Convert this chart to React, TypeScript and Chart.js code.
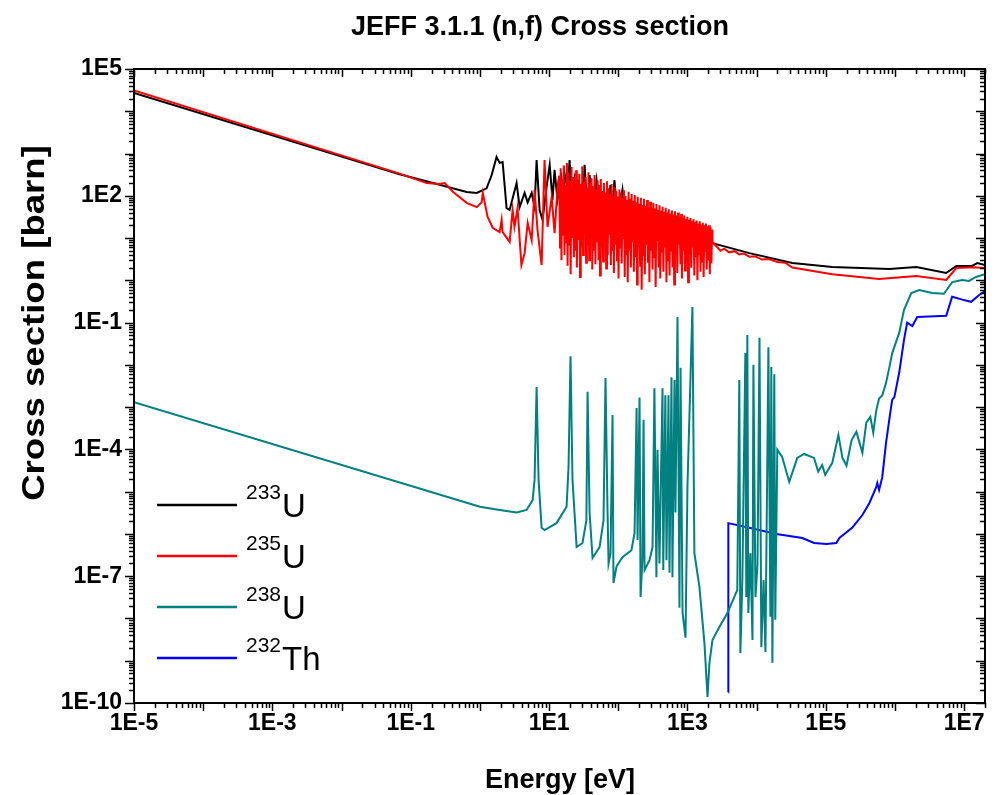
import React, { useEffect, useRef } from "react";
import { Chart, registerables } from "chart.js";

Chart.register(...registerables);

// ---------- axis ranges and labels ----------
const xMin = 1e-5;
const xMax = 2e7;
const yMin = 1e-10;
const yMax = 1e5;
const xTickValues = [1e-5, 1e-3, 1e-1, 1e1, 1e3, 1e5, 1e7];
const yTickValues = [1e-10, 1e-7, 1e-4, 1e-1, 1e2, 1e5];
const chartTitle = "JEFF 3.1.1 (n,f) Cross section";
const xAxisTitle = "Energy [eV]";
const yAxisTitle = "Cross section [barn]";

// ---------- series (energy [eV], cross section [barn]) ----------
const u233Points: [number, number][] = [
  [1e-5, 2.7e4], [0.069, 325], [0.21, 200], [0.645, 123], [0.9, 117], [1.25, 150],
  [1.48, 310], [1.74, 830], [1.93, 600], [2.13, 630], [2.43, 51], [2.69, 46],
  [3.39, 200], [3.75, 54], [4.43, 117], [4.9, 70], [5.6, 117], [6.17, 54],
  [6.6, 700], [7.3, 46], [8.05, 27], [9.2, 163], [10.2, 540], [11.2, 80],
  [12, 410], [13.2, 80], [15.1, 265], [15.9, 70], [16.7, 345], [18.5, 138],
  [19.8, 700], [21.1, 60], [23.3, 235], [25.8, 46], [27.5, 180], [30.5, 42],
  [32.6, 540], [36, 35], [38.5, 310], [42.5, 46], [48.5, 235], [53.7, 35],
  [63, 105], [70, 30], [77, 180], [82, 40], [88, 235], [98, 27], [115, 138],
  [127, 25], [203, 60], [398, 35], [767, 27], [1480, 17], [2300, 7.6],
  [7850, 4.4], [32800, 2.57], [124000, 2.07], [826000, 1.86], [2.03e6, 2.07],
  [5.5e6, 1.49], [7.7e6, 2.19], [1.3e7, 2.19], [1.55e7, 2.57], [2e7, 2.29],
];

const u235LowPoints: [number, number][] = [
  [1e-5, 3.1e4], [0.069, 335], [0.17, 200], [0.26, 190], [0.31, 200], [0.41, 123],
  [0.645, 68], [0.9, 54], [1.06, 70], [1.1, 117], [1.29, 32], [1.53, 17.5],
  [1.93, 13.8], [2.06, 27], [2.13, 13.8], [2.69, 8.1], [2.97, 46], [3.16, 18.3],
  [3.5, 51], [3.98, 2.3], [4.43, 4.4], [4.9, 23], [5.6, 9], [6.17, 138],
  [6.8, 15.5], [7.8, 2.3], [8.6, 700], [9.5, 18.3], [10.9, 93], [12, 13], [13.3, 180],
];

const u235ResonanceE = [
  14, 14.4, 14.7, 15.1, 15.5, 15.9, 16.3, 16.7, 17.2, 17.6,
  18.1, 18.5, 19.0, 19.5, 20.0, 20.5, 21.1, 21.6, 22.2, 22.8,
  23.4, 24.0, 24.6, 25.2, 25.9, 26.6, 27.3, 28.0, 28.7, 29.4,
  30.2, 31.0, 31.8, 32.6, 33.5, 34.3, 35.2, 36.1, 37.1, 38.0,
  39.0, 40.0, 41.1, 42.1, 43.2, 44.4, 45.5, 46.7, 47.9, 49.2,
  50.4, 51.8, 53.1, 54.5, 55.9, 57.4, 58.8, 60.4, 62.0, 63.6,
  65.2, 66.9, 68.7, 70.4, 72.3, 74.2, 76.1, 78.1, 80.1, 82.2,
  84.3, 86.5, 88.8, 91.1, 93.5, 95.9, 98.4, 101, 104, 106,
  109, 112, 115, 118, 121, 124, 127, 130, 134, 137,
  141, 144, 148, 152, 156, 160, 164, 168, 173, 177,
  182, 187, 191, 196, 202, 207, 212, 218, 224, 229,
  235, 242, 248, 254, 261, 268, 275, 282, 289, 297,
  305, 313, 321, 329, 338, 347, 356, 365, 375, 384,
  394, 405, 415, 426, 437, 449, 460, 472, 485, 497,
  510, 524, 537, 551, 566, 580, 596, 611, 627, 644,
  660, 678, 695, 713, 732, 751, 771, 791, 811, 833,
  854, 877, 899, 923, 947, 972, 997, 1023, 1050, 1077,
  1105, 1134, 1164, 1194, 1225, 1257, 1290, 1324, 1358, 1394,
  1430, 1468, 1506, 1545, 1586, 1627, 1670, 1713, 1758, 1804,
  1851, 1899, 1949, 2000, 2052, 2105, 2160, 2217, 2275,
];
const u235ResonanceS = [
  300, 6, 450, 3, 250, 12, 520, 4, 180, 8,
  600, 2.2, 350, 7, 220, 1.4, 480, 10, 280, 3.5,
  160, 5, 400, 2, 240, 9, 330, 1.2, 190, 6,
  500, 4, 210, 14, 280, 2.6, 150, 7, 360, 3,
  200, 11, 260, 1.8, 170, 5, 310, 2.4, 140, 8,
  230, 3, 180, 1.3, 250, 6, 130, 2.8, 200, 9,
  120, 1.9, 220, 4, 150, 12, 110, 2.3, 190, 5,
  100, 1.5, 160, 7, 130, 3, 95, 1.1, 140, 6,
  120, 2.5, 90, 10, 135, 1.2, 100, 4, 80, 0.9,
  125, 5, 85, 2, 110, 8, 75, 1.6, 105, 3.5,
  70, 0.8, 95, 6, 65, 2.2, 90, 0.6, 60, 4,
  85, 1.4, 58, 7, 80, 2.6, 55, 0.9, 72, 5,
  52, 1.8, 68, 3.5, 50, 0.7, 64, 9, 46, 2,
  60, 1.1, 45, 4.5, 55, 1.6, 42, 6, 52, 0.9,
  40, 3, 48, 1.3, 38, 5, 45, 2, 36, 0.8,
  43, 4, 34, 1.5, 40, 7, 32, 2.4, 37, 1.1,
  30, 5, 34, 1.7, 28, 3, 32, 0.9, 27, 4,
  30, 2, 25, 6, 28, 1.3, 24, 3.5, 26, 1.0,
  22, 4, 25, 1.6, 21, 2.8, 23, 1.2, 20, 5,
  22, 1.8, 19, 3, 20, 1.4, 18, 2.5, 16,
];

const u235HighPoints: [number, number][] = [
  [2300, 8], [2600, 6.5], [3000, 5.0], [3400, 5.6], [4000, 4.6], [4800, 4.9], [5600, 4.1],
  [6600, 4.3], [7850, 3.6], [9500, 3.7], [12000, 3.1], [15000, 3.2], [20000, 2.7],
  [26000, 2.6], [32800, 2.0], [124000, 1.4], [589000, 1.07], [2.03e6, 1.26],
  [5.5e6, 1.02], [7.7e6, 1.96], [1.3e7, 2.05], [2e7, 1.96],
];

const u238Points: [number, number][] = [
  [1e-5, 1.3e-3], [1.0, 4.4e-6], [1.93, 3.7e-6], [3.39, 3.2e-6], [4.73, 3.7e-6],
  [5.78, 6.3e-6], [6.17, 1.9e-5], [6.6, 3.0e-3], [7.05, 1.9e-5], [7.8, 1.4e-6],
  [8.6, 1.23e-6], [12.8, 1.8e-6], [17.9, 4.4e-6], [19.1, 3.8e-5], [20.4, 1.6e-2],
  [21.8, 1.9e-5], [25, 4.9e-7], [30.4, 6.1e-7], [34.6, 2.1e-6], [36, 2.3e-3],
  [38.5, 3.2e-6], [42.5, 2.7e-7], [53.7, 4.9e-7], [61.2, 2.1e-6], [65.4, 4.9e-3],
  [70, 3.2e-6], [72.4, 2.0e-7], [77.3, 3.5e-7], [82.6, 6.5e-4], [85.3, 6.9e-8],
  [94.4, 1.7e-7], [115, 2.8e-7], [155, 4.1e-7], [172, 1.05e-6], [184, 9.5e-4],
  [190, 7.2e-7], [203, 1.7e-3], [210, 3.2e-8], [224, 2.8e-7], [232, 5.0e-4],
  [240, 1.4e-7], [283, 2.4e-7], [313, 4.9e-7], [333, 2.8e-3], [356, 9.5e-8],
  [369, 9.8e-5], [394, 2.0e-7], [436, 2.8e-3], [447, 1.4e-7], [479, 1.9e-3],
  [498, 2.4e-7], [532, 1.9e-3], [550, 1.2e-7], [588, 5.1e-3], [607, 9.5e-8],
  [650, 4.4e-3], [671, 3.2e-6], [718, 0.135], [767, 1.8e-8], [794, 8.5e-3],
  [850, 1.35e-8], [938, 3.5e-9], [1000, 1.3e-5], [1104, 4.4e-3], [1180, 0.235],
  [1260, 3.5e-7], [1490, 5.6e-8], [1760, 2.6e-9], [1950, 1.4e-10], [2080, 8.9e-10],
  [2300, 3.1e-9], [2890, 6.3e-9], [3780, 1.35e-8], [5250, 4.7e-8], [5620, 4.4e-3],
  [5820, 1.5e-9], [6220, 8.1e-8], [6870, 1.9e-2], [7090, 3.2e-8], [7340, 5.1e-2],
  [7590, 1.35e-8], [8130, 3.5e-7], [8710, 3.1e-9], [8980, 1.0e-2], [9620, 3.2e-8],
  [10300, 2.0e-7], [11000, 4.4e-2], [11700, 2.1e-9], [12600, 8.1e-8], [13400, 1.6e-9],
  [14800, 2.6e-2], [15800, 1.1e-8], [16300, 8.9e-3], [16900, 8.9e-10], [18000, 6.0e-3],
  [18600, 9.3e-9], [19900, 9.8e-5], [23400, 6.6e-5], [29600, 1.7e-5], [38700, 6.3e-5],
  [48600, 7.8e-5], [67600, 6.3e-5], [77600, 3.0e-5], [88500, 4.3e-5], [98000, 2.5e-5],
  [124000, 4.8e-5], [152000, 2.2e-4], [174000, 6.3e-5], [199000, 4.1e-5],
  [236000, 1.66e-4], [277000, 2.6e-4], [338000, 8.3e-5], [385000, 4.3e-4],
  [440000, 5.9e-4], [485000, 2.5e-4], [537000, 8.5e-4], [589000, 1.6e-3],
  [655000, 1.9e-3], [741000, 3.7e-3], [826000, 8.5e-3], [912000, 1.9e-2],
  [1.15e6, 5.7e-2], [1.35e6, 0.2], [1.72e6, 0.5], [2.24e6, 0.59], [3.45e6, 0.5],
  [5.1e6, 0.48], [6.7e6, 0.91], [9.4e6, 1.02], [1.17e7, 0.97], [1.48e7, 1.2], [2e7, 1.4],
];

const th232Points: [number, number][] = [
  [3890, 1.8e-10], [3900, 1.8e-6], [7850, 1.4e-6], [19300, 1.0e-6], [45800, 8.0e-7],
  [67600, 6.1e-7], [102000, 5.8e-7], [142000, 6.1e-7], [157000, 8.0e-7],
  [240000, 1.4e-6], [338000, 2.8e-6], [427000, 5.4e-6], [537000, 1.3e-5],
  [555000, 1.6e-5], [589000, 1.1e-5], [655000, 2.2e-5], [741000, 1.4e-4],
  [826000, 5.0e-4], [912000, 1.5e-3], [978000, 1.7e-3], [1.15e6, 6.5e-3],
  [1.35e6, 3.9e-2], [1.5e6, 0.10], [1.78e6, 0.083], [2.1e6, 0.135], [3.12e6, 0.14],
  [5.5e6, 0.145], [6.7e6, 0.41], [9.4e6, 0.35], [1.26e7, 0.31], [1.65e7, 0.45], [2e7, 0.56],
];

const seriesMass = ["233", "235", "238", "232"];
const seriesElement = ["U", "U", "U", "Th"];
const seriesColors = ["#000000", "#ff0000", "#008080", "#0000ff"];

const FONT = "'Liberation Sans', Arial, Helvetica, sans-serif";

function toXY(pts: [number, number][]) {
  return pts.map(([x, y]) => ({ x, y }));
}

const u235All = [
  ...toXY(u235LowPoints),
  ...u235ResonanceE.map((x, i) => ({ x, y: u235ResonanceS[i] })),
  ...toXY(u235HighPoints),
];

const decorPlugin = {
  id: "decor",
  afterDatasetsDraw(chart: any) {
    const { ctx, chartArea: a, scales } = chart;
    const xs = scales.x;
    const ys = scales.y;
    ctx.save();
    ctx.strokeStyle = "#000";
    ctx.lineWidth = 2;
    ctx.strokeRect(a.left, a.top, a.right - a.left, a.bottom - a.top);
    ctx.lineWidth = 1.5;
    const seg = (x1: number, y1: number, x2: number, y2: number) => {
      ctx.beginPath();
      ctx.moveTo(x1, y1);
      ctx.lineTo(x2, y2);
      ctx.stroke();
    };
    for (let e = -5; e <= 7; e++) {
      for (let m = 1; m <= 9; m++) {
        const v = m * Math.pow(10, e);
        if (v < xMin * 0.999 || v > xMax * 1.001) continue;
        const px = Math.round(xs.getPixelForValue(v)) + 0.5;
        const len = m === 1 ? 8 : 5;
        seg(px, a.bottom, px, a.bottom + len);
        seg(px, a.top, px, a.top + len);
      }
    }
    for (let e = -10; e <= 5; e++) {
      for (let m = 1; m <= 9; m++) {
        const v = m * Math.pow(10, e);
        if (v < yMin * 0.999 || v > yMax * 1.001) continue;
        const py = Math.round(ys.getPixelForValue(v)) + 0.5;
        const len = m === 1 ? 9 : 5;
        seg(a.left - len, py, a.left, py);
        seg(a.right - len, py, a.right, py);
      }
    }
    ctx.restore();
  },
  afterDraw(chart: any) {
    const { ctx } = chart;
    ctx.save();
    ctx.fillStyle = "#000";
    ctx.textAlign = "center";
    ctx.textBaseline = "alphabetic";
    // title
    ctx.font = `bold 27px ${FONT}`;
    ctx.fillText(chartTitle, 540, 35);
    // x axis title
    ctx.font = `bold 27px ${FONT}`;
    ctx.fillText(xAxisTitle, 560, 788);
    // y axis title
    ctx.save();
    ctx.translate(44, 323);
    ctx.rotate(-Math.PI / 2);
    ctx.scale(1.18, 1);
    ctx.font = `bold 31px ${FONT}`;
    ctx.fillText(yAxisTitle, 0, 0);
    ctx.restore();
    // legend
    const rows = [505, 556, 607, 658];
    rows.forEach((ry, i) => {
      ctx.strokeStyle = seriesColors[i];
      ctx.lineWidth = 2.5;
      ctx.beginPath();
      ctx.moveTo(157, ry);
      ctx.lineTo(237, ry);
      ctx.stroke();
      ctx.textAlign = "left";
      ctx.font = `21px ${FONT}`;
      ctx.fillText(seriesMass[i], 246, ry - 6);
      const w = ctx.measureText(seriesMass[i]).width;
      ctx.font = `33px ${FONT}`;
      ctx.fillText(seriesElement[i], 246 + w + 1, ry + 12);
    });
    ctx.restore();
  },
};

export default function App() {
  const ref = useRef<HTMLCanvasElement | null>(null);
  useEffect(() => {
    if (!ref.current) return;
    const common = { pointRadius: 0, borderWidth: 2, tension: 0, fill: false };
    const chart = new Chart(ref.current, {
      type: "line",
      data: {
        datasets: [
          { label: "235U", data: u235All, borderColor: seriesColors[1], order: 1, ...common },
          { label: "233U", data: toXY(u233Points), borderColor: seriesColors[0], order: 2, ...common },
          { label: "238U", data: toXY(u238Points), borderColor: seriesColors[2], order: 3, ...common },
          { label: "232Th", data: toXY(th232Points), borderColor: seriesColors[3], order: 4, ...common },
        ],
      },
      options: {
        animation: false,
        responsive: false,
        devicePixelRatio: 1,
        layout: { padding: { top: 69, right: 15, left: 0, bottom: 0 } },
        plugins: { legend: { display: false }, title: { display: false }, tooltip: { enabled: false } },
        scales: {
          x: {
            type: "logarithmic",
            min: xMin,
            max: xMax,
            grid: { display: false, drawTicks: false },
            border: { display: false },
            afterBuildTicks: (s: any) => {
              s.ticks = xTickValues.map((v) => ({ value: v }));
            },
            afterFit: (s: any) => {
              s.height = 92;
            },
            ticks: {
              autoSkip: false,
              maxRotation: 0,
              padding: 7,
              color: "#000",
              font: { family: FONT, size: 23, weight: "bold" },
              callback: (v: any) => "1E" + Math.round(Math.log10(Number(v))),
            },
          },
          y: {
            type: "logarithmic",
            min: yMin,
            max: yMax,
            grid: { display: false, drawTicks: false },
            border: { display: false },
            afterBuildTicks: (s: any) => {
              s.ticks = yTickValues.map((v) => ({ value: v }));
            },
            afterFit: (s: any) => {
              s.width = 134;
            },
            ticks: {
              autoSkip: false,
              padding: 12,
              color: "#000",
              font: { family: FONT, size: 23, weight: "bold" },
              callback: (v: any) => "1E" + Math.round(Math.log10(Number(v))),
            },
          },
        },
      },
      plugins: [decorPlugin],
    } as any);
    return () => chart.destroy();
  }, []);
  return (
    <div style={{ position: "fixed", left: 0, top: 0, width: 1000, height: 795, background: "#fff" }}>
      <canvas ref={ref} width={1000} height={795} style={{ display: "block" }} />
    </div>
  );
}
